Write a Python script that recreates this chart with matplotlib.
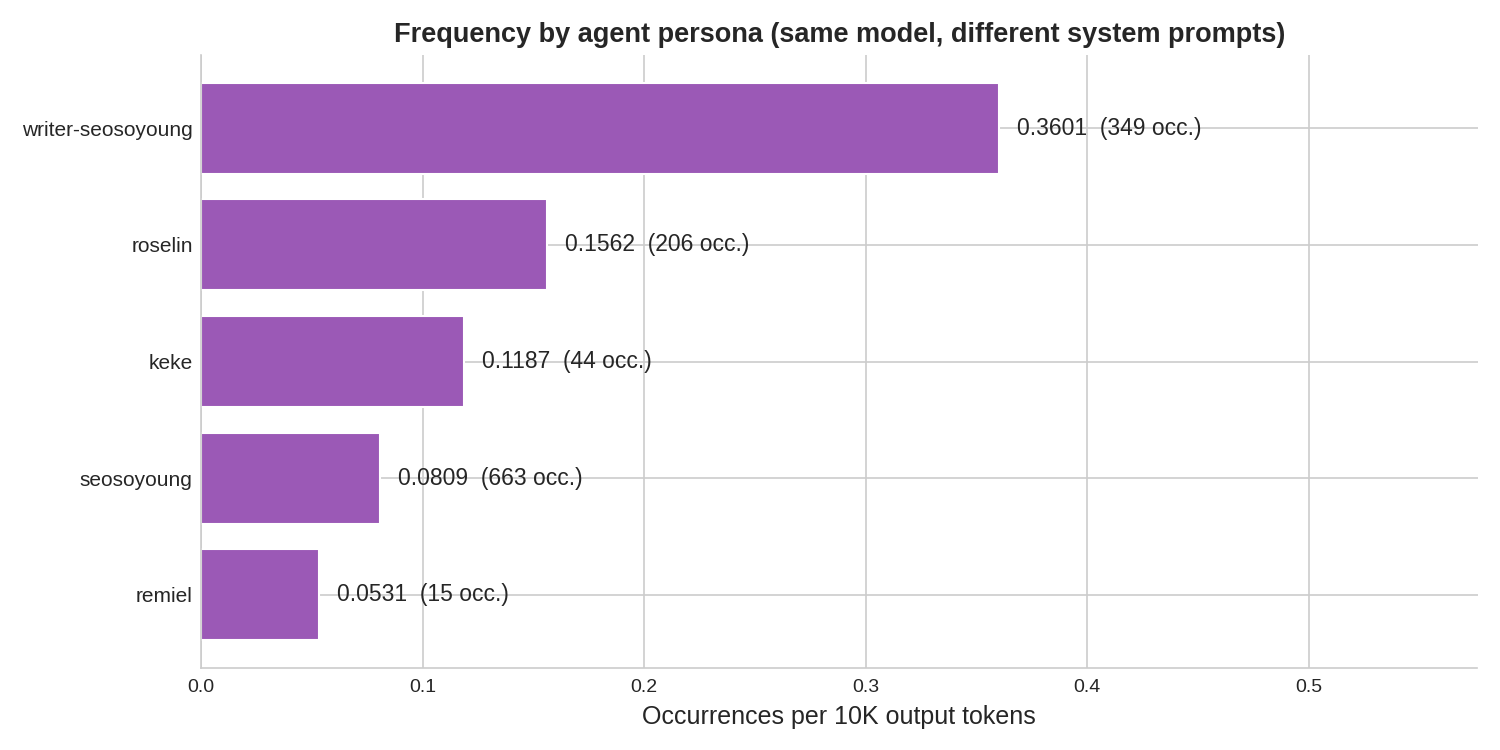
import numpy as np
import matplotlib.pyplot as plt

personas = ['writer-seosoyoung', 'roselin', 'keke', 'seosoyoung', 'remiel']
freq = [0.3601, 0.1562, 0.1187, 0.0809, 0.0531]
counts = [349, 206, 44, 663, 15]


def plot_graph():
    plt.style.use('seaborn-v0_8-whitegrid')
    plt.rcParams['font.family'] = ['Liberation Sans', 'DejaVu Sans']
    fig, ax = plt.subplots(figsize=(15, 7.5), dpi=100)

    y = np.arange(len(personas))[::-1]
    ax.barh(y, freq, height=0.78, color='#9b59b6', edgecolor='white', linewidth=1.5, zorder=2)
    ax.set_yticks(y)
    ax.set_yticklabels(personas, fontsize=15)
    ax.tick_params(axis='y', pad=6)
    ax.tick_params(axis='x', labelsize=14, pad=8)

    xmax = max(freq) * 1.6
    ax.set_xlim(0, xmax)
    for yi, v, c in zip(y, freq, counts):
        ax.text(v + xmax * 0.014, yi, f'{v:.4f}  ({c} occ.)', va='center', ha='left',
                fontsize=16.5, color='#262626', zorder=3)

    ax.set_xlabel('Occurrences per 10K output tokens', fontsize=18, color='#262626', labelpad=6)
    ax.set_title('Frequency by agent persona (same model, different system prompts)',
                 fontsize=19.5, fontweight='bold', color='#262626', pad=9)
    ax.grid(True, color='#cccccc', linewidth=1.2)
    ax.set_axisbelow(True)
    for side in ['top', 'right']:
        ax.spines[side].set_visible(False)
    for side in ['left', 'bottom']:
        ax.spines[side].set_visible(True)
        ax.spines[side].set_color('#cccccc')
        ax.spines[side].set_linewidth(1.2)

    fig.subplots_adjust(left=0.134, right=0.985, top=0.927, bottom=0.109)
    fig.savefig('out.png')


if __name__ == '__main__':
    plot_graph()
